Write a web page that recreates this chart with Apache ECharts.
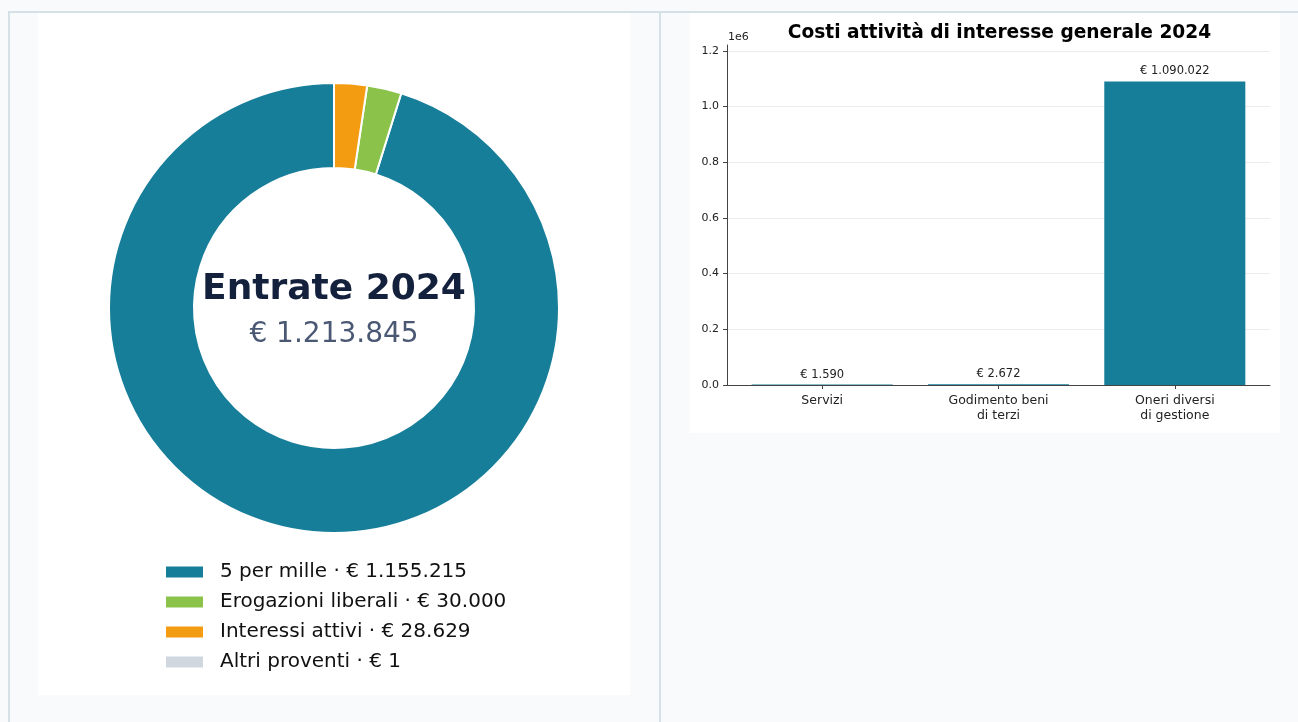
<!DOCTYPE html>
<html>
<head>
<meta charset="utf-8">
<script src="https://cdn.jsdelivr.net/npm/echarts@6/dist/echarts.min.js"></script>
<style>
  html, body { margin: 0; padding: 0; width: 1298px; height: 722px; overflow: hidden; background: #f8fafc; }
  .line { position: absolute; background: #d6e0e7; }
  .panel { position: absolute; background: #ffffff; }
  #chart { position: absolute; left: 0; top: 0; width: 1298px; height: 722px; }
</style>
</head>
<body>
<div class="line" style="left:8px; top:11px; width:1290px; height:2px;"></div>
<div class="line" style="left:8px; top:11px; width:2px; height:711px;"></div>
<div class="line" style="left:659px; top:11px; width:2px; height:711px;"></div>
<div class="panel" style="left:38px; top:13px; width:592px; height:682px;"></div>
<div class="panel" style="left:690px; top:13px; width:590px; height:420px;"></div>
<div id="chart"></div>
<script>
// ---- Data ----
const pieCategories = ['5 per mille', 'Erogazioni liberali', 'Interessi attivi', 'Altri proventi'];
const pieValues = [1155215, 30000, 28629, 1];
const pieColors = ['#177e9a', '#8bc34a', '#f39c12', '#d0d7de'];
const pieTitle = 'Entrate 2024';

const barCategories = ['Servizi', 'Godimento beni\ndi terzi', 'Oneri diversi\ndi gestione'];
const barValues = [1590, 2672, 1090022];
const barTitle = 'Costi attività di interesse generale 2024';
const yTickValues = [0, 200000, 400000, 600000, 800000, 1000000, 1200000];
const yTickLabels = ['0.0', '0.2', '0.4', '0.6', '0.8', '1.0', '1.2'];

// ---- Helpers ----
function euro(v) {
  return '€ ' + String(Math.round(v)).replace(/\B(?=(\d{3})+(?!\d))/g, '.');
}
const total = pieValues.reduce((a, b) => a + b, 0);
const FONT = 'DejaVu Sans';

const gridLeft = 727, gridRight = 1270;
const xMin = -0.54, xMax = 2.54;
const barPx = 0.8 * (gridRight - gridLeft) / (xMax - xMin);

const chart = echarts.init(document.getElementById('chart'), null, { renderer: 'canvas' });
chart.setOption({
  backgroundColor: 'transparent',
  animation: false,
  textStyle: { fontFamily: FONT },
  title: [{
    text: barTitle,
    left: (gridLeft + gridRight) / 2 - 4,
    top: 19,
    textAlign: 'center',
    textStyle: { fontFamily: FONT, fontSize: 18.6, fontWeight: 'bold', color: '#000' }
  }],
  legend: {
    orient: 'vertical',
    left: 164,
    top: 562,
    padding: 0,
    icon: 'rect',
    itemWidth: 39,
    itemHeight: 13,
    itemGap: 10,
    selectedMode: false,
    data: pieCategories,
    formatter: function (name) {
      const i = pieCategories.indexOf(name);
      return name + ' · ' + euro(pieValues[i]);
    },
    textStyle: { fontFamily: FONT, fontSize: 20, lineHeight: 20, color: '#111', padding: [0, 0, 0, 11] }
  },
  graphic: [
    {
      type: 'text', x: 334, y: 290,
      style: { text: pieTitle, fontFamily: FONT, fontSize: 36, fontWeight: 'bold', fill: '#14213d', align: 'center', verticalAlign: 'middle' }
    },
    {
      type: 'text', x: 334, y: 335,
      style: { text: euro(total), fontFamily: FONT, fontSize: 28, fill: '#4a5874', align: 'center', verticalAlign: 'middle' }
    },
    {
      type: 'text', x: 728, y: 37,
      style: { text: '1e6', fontFamily: FONT, fontSize: 11, fill: '#222', align: 'left', verticalAlign: 'middle' }
    }
  ],
  grid: { left: gridLeft, right: 1298 - gridRight, top: 45, bottom: 722 - 385, containLabel: false },
  xAxis: {
    type: 'value',
    min: xMin,
    max: xMax,
    axisLine: { show: true, onZero: false, lineStyle: { color: '#444', width: 1 } },
    axisTick: { show: true, customValues: [0, 1, 2], length: 4, lineStyle: { color: '#444' } },
    axisLabel: {
      show: true,
      customValues: [0, 1, 2],
      formatter: function (v) { return barCategories[Math.round(v)] || ''; },
      fontFamily: FONT, fontSize: 12.5, lineHeight: 15, color: '#222', margin: 8
    },
    splitLine: { show: false }
  },
  yAxis: {
    type: 'value',
    min: 0,
    max: Math.max(...barValues) * 1.12,
    axisLine: { show: true, onZero: false, lineStyle: { color: '#444', width: 1 } },
    axisTick: { show: true, customValues: yTickValues, length: 4, lineStyle: { color: '#444' } },
    axisLabel: {
      show: true,
      customValues: yTickValues,
      formatter: function (v) { const i = yTickValues.indexOf(v); return i >= 0 ? yTickLabels[i] : ''; },
      fontFamily: FONT, fontSize: 11, color: '#222', margin: 8
    },
    splitLine: { show: true, lineStyle: { color: '#ececec', width: 1 } }
  },
  series: [
    {
      type: 'pie',
      center: [334, 308],
      radius: [140, 225],
      startAngle: 90,
      clockwise: false,
      avoidLabelOverlap: false,
      label: { show: false },
      labelLine: { show: false },
      emphasis: { disabled: true },
      itemStyle: { borderColor: '#ffffff', borderWidth: 2 },
      data: pieCategories.map((n, i) => ({ name: n, value: pieValues[i], itemStyle: { color: pieColors[i] } }))
    },
    {
      type: 'bar',
      barWidth: barPx,
      itemStyle: { color: '#177e9a' },
      label: {
        show: true, position: 'top', distance: 4,
        formatter: function (p) { return euro(p.value[1]); },
        fontFamily: FONT, fontSize: 11.5, color: '#222'
      },
      data: barValues.map((v, i) => [i, v])
    }
  ]
});
</script>
</body>
</html>
